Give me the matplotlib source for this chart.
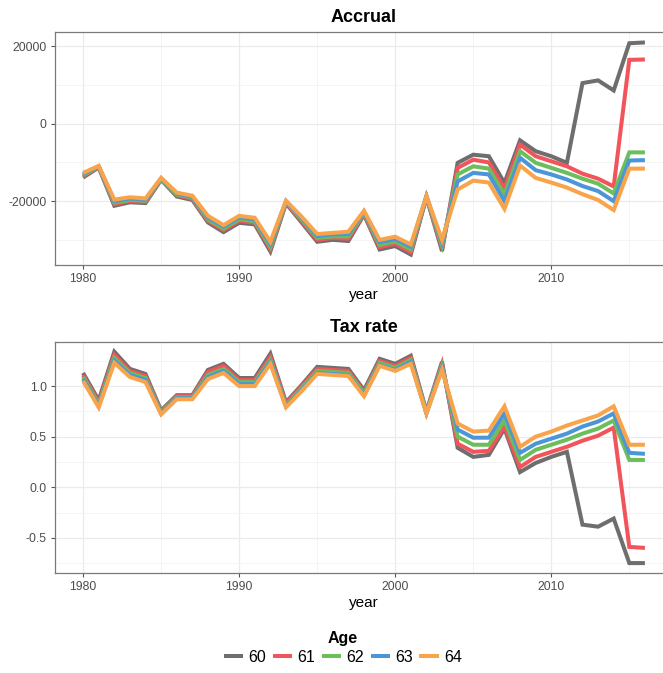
import matplotlib
matplotlib.use("Agg")
import matplotlib.pyplot as plt
from matplotlib.ticker import MultipleLocator, FuncFormatter

plt.rcParams['font.family'] = ['Liberation Sans', 'DejaVu Sans']

years = list(range(1980, 2017))
ages = ["60", "61", "62", "63", "64"]
colors = ["#6E6E6E", "#F2545B", "#6CBE5C", "#4C96D8", "#F9A44A"]

accrual_60 = [-13900, -11300, -21200, -20300, -20500, -14500, -18800, -19700, -25500, -28000,
              -25600, -26000, -33000, -20600, -25500, -30500, -30000, -30300, -23500, -32500,
              -31600, -33800, -19000, -32900, -10100, -8000, -8400, -15300, -4300, -7100,
              -8400, -10100, 10500, 11200, 8600, 20800, 21000]
accrual_61 = [-13600, -11200, -20800, -20000, -20200, -14400, -18500, -19400, -25100, -27500,
              -25100, -25600, -32400, -20400, -25100, -30000, -29500, -29700, -23300, -31900,
              -31000, -33200, -18900, -32200, -11400, -9300, -10000, -16700, -5400, -8400,
              -9700, -11000, -12900, -14200, -16200, 16500, 16600]
accrual_62 = [-13300, -11100, -20400, -19700, -19900, -14300, -18300, -19100, -24700, -27100,
              -24700, -25200, -31800, -20200, -24700, -29500, -29100, -29100, -23000, -31300,
              -30400, -32500, -18800, -31500, -13100, -11000, -11600, -18300, -7100, -10100,
              -11400, -12700, -14200, -15500, -18000, -7400, -7400]
accrual_63 = [-13000, -11000, -20000, -19300, -19600, -14100, -18000, -18900, -24200, -26600,
              -24200, -24700, -31100, -20000, -24300, -29000, -28600, -28500, -22700, -30600,
              -29800, -31800, -18700, -30700, -14900, -12700, -13100, -20000, -8800, -12000,
              -13100, -14400, -16100, -17400, -20000, -9500, -9400]
accrual_64 = [-12700, -10900, -19600, -19000, -19300, -14000, -17800, -18600, -23800, -26200,
              -23800, -24300, -30500, -19900, -24000, -28500, -28200, -27900, -22500, -30000,
              -29200, -31200, -18700, -30000, -17000, -14700, -15200, -22000, -10800, -14000,
              -15200, -16500, -18200, -19700, -22300, -11600, -11600]

tax_60 = [1.13, 0.86, 1.34, 1.17, 1.12, 0.76, 0.91, 0.91, 1.16, 1.22, 1.08, 1.08, 1.32, 0.84,
          1.01, 1.19, 1.18, 1.17, 0.96, 1.27, 1.22, 1.30, 0.75, 1.24, 0.39, 0.30, 0.32, 0.58,
          0.15, 0.24, 0.30, 0.35, -0.37, -0.39, -0.31, -0.75, -0.75]
tax_61 = [1.11, 0.84, 1.31, 1.15, 1.10, 0.75, 0.90, 0.90, 1.14, 1.20, 1.06, 1.06, 1.29, 0.83,
          1.00, 1.17, 1.16, 1.15, 0.94, 1.25, 1.20, 1.28, 0.74, 1.22, 0.43, 0.35, 0.36, 0.60,
          0.20, 0.30, 0.35, 0.40, 0.46, 0.51, 0.59, -0.59, -0.60]
tax_62 = [1.09, 0.82, 1.28, 1.13, 1.08, 0.74, 0.89, 0.89, 1.11, 1.17, 1.04, 1.04, 1.26, 0.81,
          0.98, 1.15, 1.14, 1.13, 0.93, 1.23, 1.18, 1.26, 0.74, 1.20, 0.50, 0.42, 0.42, 0.66,
          0.27, 0.37, 0.42, 0.47, 0.53, 0.58, 0.66, 0.27, 0.27]
tax_63 = [1.07, 0.80, 1.25, 1.11, 1.06, 0.73, 0.88, 0.88, 1.09, 1.15, 1.02, 1.02, 1.24, 0.80,
          0.96, 1.13, 1.12, 1.11, 0.91, 1.21, 1.16, 1.24, 0.73, 1.18, 0.57, 0.49, 0.49, 0.73,
          0.34, 0.43, 0.48, 0.53, 0.60, 0.65, 0.73, 0.34, 0.33]
tax_64 = [1.05, 0.79, 1.23, 1.09, 1.04, 0.72, 0.87, 0.87, 1.07, 1.13, 1.00, 1.00, 1.22, 0.79,
          0.95, 1.12, 1.11, 1.10, 0.90, 1.20, 1.15, 1.22, 0.73, 1.16, 0.63, 0.55, 0.56, 0.80,
          0.40, 0.50, 0.55, 0.61, 0.66, 0.71, 0.80, 0.42, 0.42]

accrual = [accrual_60, accrual_61, accrual_62, accrual_63, accrual_64]
tax = [tax_60, tax_61, tax_62, tax_63, tax_64]

W, H = 663, 673
fig = plt.figure(figsize=(W / 100, H / 100), dpi=100)

def px_axes(left, top, right, bottom):
    return fig.add_axes([left / W, 1 - bottom / H, (right - left) / W, (bottom - top) / H])

ax1 = px_axes(55, 32, 673, 265)
ax2 = px_axes(55, 342, 673, 573)

def style(ax, title, series, ylim, ymaj, ymin):
    lines = []
    for s, c, a in zip(series, colors, ages):
        ln, = ax.plot(years, s, color=c, lw=2.9, label=a, solid_joinstyle='miter',
                      solid_capstyle='butt')
        lines.append(ln)
    ax.set_xlim(1978.2, 2017.8)
    ax.set_ylim(*ylim)
    ax.xaxis.set_major_locator(MultipleLocator(10))
    ax.xaxis.set_minor_locator(MultipleLocator(5))
    ax.yaxis.set_major_locator(MultipleLocator(ymaj))
    ax.yaxis.set_minor_locator(MultipleLocator(ymin))
    ax.grid(which='major', color='#EBEBEB', lw=0.9, zorder=0)
    ax.grid(which='minor', color='#F3F3F3', lw=0.6, zorder=0)
    ax.set_axisbelow(True)
    for sp in ax.spines.values():
        sp.set_color('#7A7A7A')
        sp.set_linewidth(0.9)
    ax.spines['right'].set_visible(False)
    ax.tick_params(which='major', length=3, width=0.8, color='#555555',
                   labelsize=8.7, labelcolor='#4D4D4D', pad=3)
    ax.tick_params(which='minor', length=0)
    ax.set_title(title, fontsize=13, fontweight='bold', pad=7)
    ax.set_xlabel('year', fontsize=11, labelpad=2)
    return lines

lines = style(ax1, 'Accrual', accrual, (-36500, 23700), 20000, 10000)
style(ax2, 'Tax rate', tax, (-0.848, 1.436), 0.5, 0.25)
ax1.yaxis.set_major_formatter(FuncFormatter(lambda v, p: f"{int(round(v))}"))
ax2.yaxis.set_major_formatter(FuncFormatter(lambda v, p: f"{v:.1f}"))

leg = fig.legend(lines, ages, loc='center', bbox_to_anchor=(343 / W, 1 - 648 / H),
                 ncol=5, frameon=False, title='Age', fontsize=11.5,
                 handlelength=1.2, handletextpad=0.35, columnspacing=0.4,
                 borderpad=0, labelspacing=0.2)
leg.get_title().set_fontweight('bold')
leg.get_title().set_fontsize(11.5)

fig.savefig('out.png', dpi=100)
